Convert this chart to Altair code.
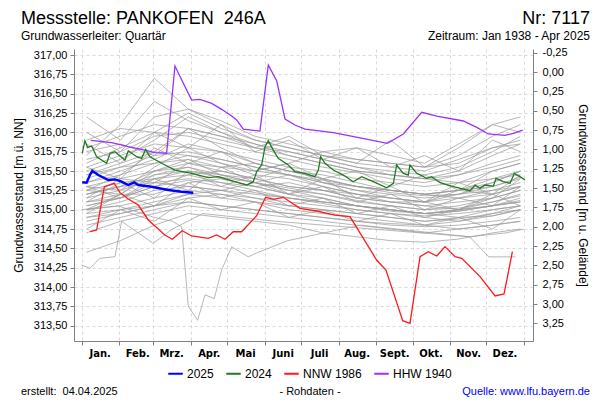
import json
import altair as alt
import pandas as pd

# ---------------- text ----------------
TITLE = "Messstelle: PANKOFEN\u00a0 246A"
NR = "Nr: 7117"
SUBTITLE = "Grundwasserleiter: Quartär"
PERIOD = "Zeitraum: Jan 1938 - Apr 2025"
CREATED = "erstellt:\u00a0 04.04.2025"
RAW = "- Rohdaten -"
SOURCE = "Quelle: www.lfu.bayern.de"
Y_TITLE_L = "Grundwasserstand [m ü. NN]"
Y_TITLE_R = "Grundwasserstand [m u. Gelände]"

# ---------------- axes ----------------
MONTH_STARTS = [0, 31, 59, 90, 120, 151, 181, 212, 243, 273, 304, 334, 365]
MONTH_NAMES = ["Jan.", "Feb.", "Mrz.", "Apr.", "Mai", "Juni", "Juli", "Aug.",
               "Sept.", "Okt.", "Nov.", "Dez.", ""]
LEFT_TICKS = [313.5, 313.75, 314.0, 314.25, 314.5, 314.75, 315.0, 315.25,
              315.5, 315.75, 316.0, 316.25, 316.5, 316.75, 317.0]
RIGHT_TICKS = [-0.25, 0.0, 0.25, 0.5, 0.75, 1.0, 1.25, 1.5, 1.75, 2.0,
               2.25, 2.5, 2.75, 3.0, 3.25]
X_DOMAIN = [-6.3, 372.4]
Y_DOMAIN = [313.302, 317.078]
R_DOMAIN = [3.478, -0.298]

# ---------------- series ----------------
SERIES = ["2025", "2024", "NNW 1986", "HHW 1940"]
COLORS = ["#0000ff", "#1f7a1f", "#ff1a1a", "#9b30ff"]

Y2025_DAYS = [0.5, 4.1, 6.8, 8.8, 13.7, 22, 27.5, 33, 38.5, 43.4, 46.7, 57.8, 71.5, 82.5, 92.1]
Y2025_VALS = [315.354, 315.349, 315.448, 315.504, 315.448, 315.384, 315.392, 315.362,
              315.319, 315.354, 315.319, 315.297, 315.254, 315.232, 315.22]

Y2024_DAYS = [0.5, 2.7, 4.9, 8.3, 12.4, 20.6, 23.4, 27.5, 35.7, 38.5, 45.4, 49.5, 52.8,
              56.4, 66, 77, 90.8, 104.5, 112.7, 126.5, 136.2, 141.6, 144.4, 148.5, 151.3,
              154, 158.1, 162.2, 170.5, 176, 184.3, 192.5, 195.3, 197.2, 200.8, 207.6,
              215.9, 224.1, 231.1, 240.6, 251.7, 257.2, 259.9, 265.4, 269.5, 270.9,
              276.5, 284.7, 288.8, 295.7, 306.7, 320.4, 324.6, 328.7, 332.8, 339.7,
              341.9, 347.9, 353.5, 357, 361.7, 365.8]
Y2024_VALS = [315.729, 315.892, 315.806, 315.823, 315.685, 315.6, 315.729, 315.75,
              315.642, 315.763, 315.685, 315.664, 315.78, 315.685, 315.6, 315.513,
              315.47, 315.414, 315.427, 315.362, 315.319, 315.362, 315.491, 315.578,
              315.814, 315.892, 315.77, 315.664, 315.578, 315.491, 315.47, 315.427,
              315.513, 315.685, 315.6, 315.513, 315.448, 315.362, 315.427, 315.362,
              315.284, 315.341, 315.578, 315.47, 315.448, 315.578, 315.47, 315.406,
              315.427, 315.349, 315.297, 315.245, 315.319, 315.276, 315.319, 315.306,
              315.406, 315.362, 315.341, 315.47, 315.427, 315.384]

NNW_DAYS = [6.8, 12.4, 18.7, 26.9, 31.6, 38.5, 46.7, 55, 68.7, 74.8, 83, 90.8, 104.5,
            111.4, 118.3, 125.1, 132, 144.4, 151.8, 158.1, 166.4, 180.1, 193.9, 209,
            221.4, 243.4, 251.1, 264.9, 270.9, 279.2, 286, 293, 299.8, 308.1, 313.6,
            328.7, 341.1, 348.5, 355.4]
NNW_VALS = [314.715, 314.737, 315.297, 315.34, 315.22, 315.138, 315.06, 314.867,
            314.673, 314.617, 314.728, 314.66, 314.63, 314.673, 314.617, 314.715,
            314.715, 314.922, 315.16, 315.134, 315.16, 315.018, 314.983, 314.931,
            314.91, 314.349, 314.22, 313.565, 313.531, 314.392, 314.457, 314.401,
            314.522, 314.392, 314.371, 314.134, 313.884, 313.91, 314.457]

HHW_DAYS = [7.4, 24.8, 38.5, 52.2, 60.5, 70.1, 77, 83.9, 90.8, 97.6, 107.3, 115.5,
            123.8, 127.9, 133.4, 147.1, 154, 160.9, 167.8, 176, 184.3, 207.6, 229.7,
            252.2, 265.4, 280.6, 293, 314.9, 326, 335.6, 349.3, 356.2, 363.9]
HHW_VALS = [315.897, 315.866, 315.815, 315.77, 315.737, 315.729, 316.858, 316.634,
            316.418, 316.427, 316.375, 316.298, 316.211, 316.16, 316.043, 316.017,
            316.87, 316.668, 316.173, 316.095, 316.043, 315.996, 315.93, 315.858,
            315.979, 316.259, 316.211, 316.147, 316.065, 315.979, 315.962, 315.988,
            316.03]

# historical years (grey)
GRAY_DAYS = [4, 32, 60, 88, 115, 143, 171, 199, 227, 255, 283, 311, 339, 362]
GRAY_LINES = [
    [315.20, 315.30, 315.45, 315.50, 315.42, 315.35, 315.28, 315.20, 315.12, 315.05, 315.00, 315.02, 315.10, 315.18],
    [315.05, 315.15, 315.30, 315.38, 315.30, 315.22, 315.15, 315.08, 315.00, 314.95, 314.92, 314.95, 315.00, 315.05],
    [315.40, 315.55, 315.70, 315.75, 315.65, 315.55, 315.45, 315.38, 315.30, 315.22, 315.18, 315.20, 315.30, 315.42],
    [314.95, 315.00, 315.10, 315.20, 315.15, 315.10, 315.05, 315.00, 314.95, 314.90, 314.85, 314.88, 314.95, 315.00],
    [315.60, 315.80, 316.00, 315.95, 315.85, 315.75, 315.65, 315.55, 315.48, 315.40, 315.35, 315.45, 315.60, 315.70],
    [315.30, 315.25, 315.55, 315.80, 315.60, 315.45, 315.40, 315.30, 315.20, 315.15, 315.10, 315.20, 315.35, 315.50],
    [314.80, 314.90, 315.00, 315.10, 315.05, 315.00, 314.95, 314.90, 314.85, 314.80, 314.78, 314.80, 314.85, 314.90],
    [315.15, 315.40, 315.35, 315.60, 315.50, 315.40, 315.55, 315.35, 315.25, 315.15, 315.10, 315.25, 315.20, 315.30],
    [315.50, 315.65, 315.90, 316.20, 316.00, 315.85, 315.75, 315.65, 315.55, 315.45, 315.40, 315.35, 315.40, 315.50],
    [315.00, 315.10, 315.25, 315.30, 315.25, 315.35, 315.25, 315.15, 315.05, 315.00, 314.95, 314.90, 314.92, 315.00],
    [315.25, 315.35, 315.40, 315.45, 315.50, 315.40, 315.30, 315.25, 315.15, 315.10, 315.05, 315.10, 315.15, 315.25],
    [315.80, 315.95, 316.10, 316.05, 315.95, 315.85, 315.70, 315.60, 315.50, 315.45, 315.40, 315.50, 315.70, 315.85],
    [314.90, 314.95, 315.05, 315.15, 315.20, 315.10, 315.00, 314.95, 314.90, 314.85, 314.80, 314.75, 314.80, 314.85],
    [315.35, 315.45, 315.60, 315.65, 315.55, 315.60, 315.50, 315.40, 315.30, 315.25, 315.20, 315.15, 315.25, 315.35],
    [315.10, 315.20, 315.20, 315.35, 315.40, 315.30, 315.20, 315.10, 315.05, 315.00, 314.95, 315.00, 315.10, 315.20],
    [316.20, 315.90, 316.40, 316.15, 316.00, 315.80, 315.95, 315.70, 315.60, 315.90, 315.55, 315.80, 316.10, 316.00],
    [315.45, 315.60, 315.75, 315.70, 315.60, 315.50, 315.45, 315.35, 315.25, 315.20, 315.15, 315.20, 315.25, 315.30],
    [315.15, 315.25, 315.40, 315.50, 315.45, 315.35, 315.25, 315.20, 315.10, 315.05, 315.00, 315.05, 315.15, 315.25],
    [315.00, 315.05, 315.15, 315.25, 315.20, 315.15, 315.10, 315.05, 315.00, 314.95, 314.90, 314.85, 314.95, 315.05],
    [315.55, 315.70, 315.85, 315.80, 315.75, 315.65, 315.55, 315.50, 315.40, 315.35, 315.30, 315.35, 315.50, 315.60],
    [314.70, 314.85, 314.95, 315.05, 315.00, 314.95, 314.90, 314.85, 314.80, 314.75, 314.70, 314.75, 314.80, 314.85],
    [315.25, 315.20, 315.50, 315.65, 315.45, 315.35, 315.45, 315.30, 315.20, 315.10, 315.10, 315.00, 315.15, 315.40],
    [315.35, 315.50, 315.65, 315.85, 315.75, 315.60, 315.50, 315.45, 315.35, 315.25, 315.20, 315.25, 315.40, 315.45],
    [315.70, 316.10, 316.70, 316.30, 316.10, 315.90, 315.80, 315.70, 315.60, 315.55, 315.50, 315.65, 315.80, 315.90],
    [315.05, 315.15, 315.30, 315.45, 315.35, 315.25, 315.15, 315.10, 315.05, 315.00, 314.95, 315.00, 315.05, 315.10],
    [315.20, 315.30, 315.35, 315.40, 315.35, 315.30, 315.35, 315.25, 315.15, 315.10, 315.05, 315.00, 315.05, 315.15],
    [314.90, 315.00, 315.05, 315.20, 315.25, 315.15, 315.05, 315.00, 314.95, 314.90, 314.85, 314.90, 315.00, 315.05],
    [315.65, 315.75, 315.95, 316.00, 315.90, 315.80, 315.75, 315.65, 315.55, 315.50, 315.45, 315.55, 315.75, 315.95],
    [315.30, 315.40, 315.50, 315.55, 315.45, 315.40, 315.30, 315.25, 315.20, 315.15, 315.10, 315.15, 315.20, 315.30],
    [315.10, 315.15, 315.35, 315.30, 315.25, 315.20, 315.15, 315.10, 315.05, 314.98, 314.95, 314.98, 315.05, 315.12],
    [314.45, 314.60, 314.80, 314.95, 314.90, 314.85, 314.80, 314.70, 314.65, 314.60, 314.58, 314.62, 314.70, 314.75],
    [315.45, 315.55, 315.60, 315.70, 315.65, 315.55, 315.45, 315.35, 315.30, 315.25, 315.20, 315.25, 315.35, 315.50],
    [315.00, 315.20, 315.45, 315.55, 315.40, 315.30, 315.20, 315.15, 315.05, 315.00, 314.95, 314.98, 315.05, 315.10],
    [315.20, 315.30, 315.50, 315.60, 315.55, 315.50, 315.60, 315.75, 315.80, 315.70, 315.60, 315.85, 316.10, 316.20],
    [314.85, 314.95, 315.05, 315.10, 315.05, 315.00, 314.95, 314.90, 314.85, 314.82, 314.80, 314.85, 314.92, 315.00],
    [315.90, 316.05, 316.00, 316.25, 316.05, 315.90, 315.80, 315.70, 315.65, 315.60, 315.55, 315.70, 315.95, 316.10],
    [316.00, 315.75, 316.20, 316.30, 316.15, 315.95, 315.85, 315.75, 315.65, 315.60, 315.55, 315.60, 315.80, 315.85],
    [315.75, 315.85, 315.70, 316.05, 315.95, 315.80, 315.70, 315.60, 315.50, 315.45, 315.40, 315.45, 315.55, 315.65],
    [315.25, 315.45, 315.75, 316.05, 315.80, 315.60, 315.50, 315.40, 315.30, 315.25, 315.20, 315.25, 315.30, 315.40],
    [315.10, 315.35, 315.15, 315.50, 315.30, 315.45, 315.20, 315.30, 315.10, 315.20, 315.00, 315.15, 315.05, 315.30],
    [315.55, 315.40, 315.80, 315.60, 315.75, 315.50, 315.60, 315.40, 315.50, 315.30, 315.45, 315.25, 315.50, 315.60],
    [314.95, 315.20, 315.05, 315.35, 315.15, 315.25, 315.05, 315.15, 314.95, 315.05, 314.90, 315.00, 315.20, 315.05],
    [315.85, 315.60, 316.00, 315.80, 316.10, 315.75, 315.90, 315.65, 315.80, 315.55, 315.70, 315.50, 315.90, 315.75],
    [315.30, 315.15, 315.40, 315.25, 315.55, 315.35, 315.20, 315.40, 315.15, 315.30, 315.10, 315.35, 315.20, 315.45],
    [314.75, 315.00, 314.85, 315.15, 315.00, 315.10, 314.90, 315.00, 314.85, 314.95, 314.80, 314.90, 314.75, 315.00],
]
OUT1_DAYS = [0, 30, 60, 75, 82.5, 88, 95.7, 101.8, 109.4, 115.5, 123.8, 137.5, 144.4,
             170, 200, 230, 260, 290, 320, 350, 365]
OUT1_VALS = [315.00, 315.05, 314.90, 314.85, 314.78, 313.75, 313.57, 313.90, 313.85,
             314.22, 314.52, 314.39, 314.44, 314.60, 314.70, 314.80, 314.75, 314.70,
             314.65, 314.70, 314.75]
OUT2_DAYS = [0, 6.8, 15.1, 27.5, 33, 59, 75, 100, 130, 160, 200, 240, 280, 320, 336, 358]
OUT2_VALS = [314.285, 314.242, 314.371, 314.392, 314.85, 314.565, 314.75, 314.95,
             314.90, 314.85, 314.80, 314.75, 314.70, 314.65, 314.39, 314.39]

# ---------------- build tables ----------------
rows = []
for i, vals in enumerate(GRAY_LINES):
    for d, v in zip(GRAY_DAYS, vals):
        rows.append({"day": d, "value": v, "line": f"g{i}"})
for d, v in zip(OUT1_DAYS, OUT1_VALS):
    rows.append({"day": d, "value": v, "line": "o1"})
for d, v in zip(OUT2_DAYS, OUT2_VALS):
    rows.append({"day": d, "value": v, "line": "o2"})
gray_df = pd.DataFrame(rows)


def series_df(name, days, vals):
    return pd.DataFrame({"day": days, "value": vals, "series": name})


FONT = "Liberation Sans"

label_expr_x = (json.dumps(MONTH_NAMES) + "[indexof(" + json.dumps(MONTH_STARTS)
                + ", datum.value)]")
label_expr_y = "replace(format(datum.value, '.2f'), '.', ',')"
label_expr_r = "replace(replace(format(datum.value, '.2f'), '.', ','), '\u2212', '-')"

X_ENC = alt.X("day:Q",
              scale=alt.Scale(domain=X_DOMAIN, nice=False, zero=False),
              axis=alt.Axis(values=MONTH_STARTS, labelExpr=label_expr_x, title=None,
                            grid=True, gridDash=[3, 3], gridColor="#d9d9d9",
                            tickSize=4, tickColor="#808080", domainColor="#808080",
                            labelAlign="center", labelOffset=18, labelPadding=3,
                            labelFont="DejaVu Sans", labelFontSize=10,
                            labelFontWeight="bold", labelColor="#000000",
                            labelFlush=False, labelOverlap=False))
Y_ENC = alt.Y("value:Q",
              scale=alt.Scale(domain=Y_DOMAIN, nice=False, zero=False),
              axis=alt.Axis(values=LEFT_TICKS, labelExpr=label_expr_y, title=Y_TITLE_L,
                            grid=True, gridDash=[3, 3], gridColor="#d9d9d9",
                            tickSize=4, tickColor="#808080", domainColor="#808080",
                            labelFont=FONT, labelFontSize=11, labelColor="#000000",
                            labelPadding=3, titleFont=FONT, titleFontSize=12,
                            titleFontWeight="normal", titleColor="#000000",
                            titlePadding=8, labelFlush=False, labelOverlap=False))

COLOR_ENC = alt.Color("series:N",
                      scale=alt.Scale(domain=SERIES, range=COLORS),
                      legend=alt.Legend(orient="none", legendX=93, legendY=316,
                                        direction="horizontal", title=None,
                                        symbolType="stroke", symbolStrokeWidth=2,
                                        symbolSize=210, labelFont=FONT,
                                        labelFontSize=12, labelColor="#000000",
                                        columnPadding=8, labelOffset=3, padding=0))

gray = alt.Chart(gray_df).mark_line(color="#9a9a9a", strokeWidth=0.9, opacity=0.8).encode(
    x=X_ENC, y=Y_ENC, detail="line:N")


def colored(name, days, vals, width):
    return alt.Chart(series_df(name, days, vals)).mark_line(strokeWidth=width).encode(
        x=X_ENC, y=Y_ENC, color=COLOR_ENC)


hhw = colored("HHW 1940", HHW_DAYS, HHW_VALS, 1.3)
nnw = colored("NNW 1986", NNW_DAYS, NNW_VALS, 1.3)
y24 = colored("2024", Y2024_DAYS, Y2024_VALS, 1.3)
y25 = colored("2025", Y2025_DAYS, Y2025_VALS, 2.4)


def txt(s, x, y, size, align="left", color="#000000"):
    return alt.Chart(pd.DataFrame({"t": [s]})).mark_text(
        font=FONT, fontSize=size, align=align, baseline="alphabetic", color=color
    ).encode(text="t:N", x=alt.value(x), y=alt.value(y))


texts = [
    txt(TITLE, -53, -25, 18),
    txt(NR, 516, -25, 18, "right"),
    txt(SUBTITLE, -53, -9, 12),
    txt(PERIOD, 516, -9, 12, "right"),
    txt(CREATED, -53, 346, 11),
    txt(RAW, 236, 346, 11, "center"),
    txt(SOURCE, 516, 346, 11, "right", "#0000ff"),
]

main = alt.layer(gray, hhw, nnw, y24, y25, *texts)

right_df = pd.DataFrame({"day": [0, 365], "depth": [RIGHT_TICKS[0], RIGHT_TICKS[-1]]})
right = alt.Chart(right_df).mark_point(opacity=0).encode(
    x=X_ENC,
    y=alt.Y("depth:Q",
            scale=alt.Scale(domain=R_DOMAIN, nice=False, zero=False),
            axis=alt.Axis(orient="right", values=RIGHT_TICKS, labelExpr=label_expr_r,
                          title=Y_TITLE_R, grid=False, tickSize=4,
                          tickColor="#808080", domainColor="#808080",
                          labelFont=FONT, labelFontSize=11, labelColor="#000000",
                          labelPadding=5, titleFont=FONT, titleFontSize=12,
                          titleFontWeight="normal", titleColor="#000000",
                          titlePadding=8, labelFlush=False, labelOverlap=False)))

chart = alt.layer(main, right).resolve_scale(y="independent").properties(
    width=459, height=292,
    autosize=alt.AutoSizeParams(type="none"),
    padding={"left": 66, "top": 41, "right": 59, "bottom": 57},
    background="#ffffff",
).configure_view(stroke=None)

chart.save("out.html", embed_options={"renderer": "svg", "actions": False})
